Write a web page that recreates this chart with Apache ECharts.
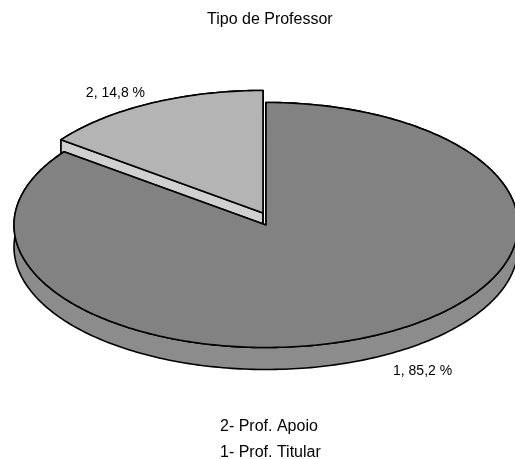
<!DOCTYPE html>
<html><head><meta charset="utf-8">
<script src="https://cdn.jsdelivr.net/npm/echarts@6/dist/echarts.min.js"></script>
<style>html,body{margin:0;padding:0;background:#fff}#c{width:515px;height:459px}</style>
</head><body><div id="c"></div>
<script>
// ---- data ----
const chartTitle = 'Tipo de Professor';
const categories = ['1', '2'];
const legendNames = ['1- Prof. Titular', '2- Prof. Apoio'];
const values = [85.2, 14.8];
const legendOrder = ['2- Prof. Apoio', '1- Prof. Titular'];

// ---- style / geometry ----
const geo = {cx: 266, cy: 225, rx: 252, ry: 122.5, depth: 22, start: 90};
const sliceStyle = [
  {top: '#828282', side: '#8c8c8c', explode: [0, 0], z: 3, label: {dx: 14, dy: 36.5, align: 'left'}},
  {top: '#b4b4b4', side: '#d0d0d0', explode: [-3, -12], z: 2, label: {dx: -5, dy: -10.5, align: 'right'}}
];
const FONT = '"Liberation Sans", Arial, sans-serif';
const total = values.reduce((a, b) => a + b, 0);

function fmtLabel(i, v) {
  return categories[i] + ', ' + v.toFixed(1).replace('.', ',') + ' %';
}

function makeRender(i) {
  return function (params, api) {
    const v = api.value(0);
    let before = 0;
    for (let k = 0; k < i; k++) before += values[k];
    const s = geo.start - before / total * 360;
    const e = s - v / total * 360;
    const st = sliceStyle[i];
    const ox = st.explode[0], oy = st.explode[1];
    const P = (deg, dz) => {
      const r = deg * Math.PI / 180;
      return [geo.cx + geo.rx * Math.cos(r) + ox, geo.cy - geo.ry * Math.sin(r) + oy + (dz || 0)];
    };
    const C = (dz) => [geo.cx + ox, geo.cy + oy + (dz || 0)];
    const n = Math.max(2, Math.ceil(s - e));
    const arcTop = [], arcBot = [];
    for (let j = 0; j <= n; j++) {
      const a = s - (s - e) * j / n;
      arcTop.push(P(a, 0));
      arcBot.push(P(a, geo.depth));
    }
    const lineStyle = {stroke: '#000', lineWidth: 1.6, lineJoin: 'round'};
    const children = [];
    children.push({type: 'polygon', shape: {points: arcTop.concat(arcBot.slice().reverse())},
      style: Object.assign({fill: st.side}, lineStyle)});
    [s, e].forEach(a => {
      children.push({type: 'polygon', shape: {points: [C(0), P(a, 0), P(a, geo.depth), C(geo.depth)]},
        style: Object.assign({fill: st.side}, lineStyle)});
    });
    children.push({type: 'polygon', shape: {points: [C(0)].concat(arcTop)},
      style: Object.assign({fill: st.top}, lineStyle)});
    const mid = P((s + e) / 2, 0);
    children.push({type: 'text', style: {
      text: fmtLabel(i, v), x: mid[0] + st.label.dx, y: mid[1] + st.label.dy,
      textAlign: st.label.align, textVerticalAlign: 'middle',
      font: '14px ' + FONT, fill: '#000'}});
    return {type: 'group', children: children};
  };
}

const series = values.map((v, i) => ({
  type: 'custom',
  name: legendNames[i],
  coordinateSystem: 'none',
  itemStyle: {color: sliceStyle[i].top},
  data: [[v]],
  renderItem: makeRender(i),
  silent: true,
  z: sliceStyle[i].z
}));

const chart = echarts.init(document.getElementById('c'), null, {renderer: 'canvas'});
chart.setOption({
  animation: false,
  backgroundColor: '#fff',
  title: {
    text: chartTitle, left: 207, top: 12, padding: 0,
    textStyle: {fontFamily: FONT, fontSize: 16, fontWeight: 'normal', color: '#000'}
  },
  legend: {
    data: legendOrder, orient: 'vertical', left: 215, top: 419, height: 60, padding: 0,
    icon: 'none', itemWidth: 0, itemHeight: 16, itemGap: 9.5, selectedMode: false,
    textStyle: {fontFamily: FONT, fontSize: 16, lineHeight: 16, color: '#000'}
  },
  series: series
});
</script>
</body></html>
